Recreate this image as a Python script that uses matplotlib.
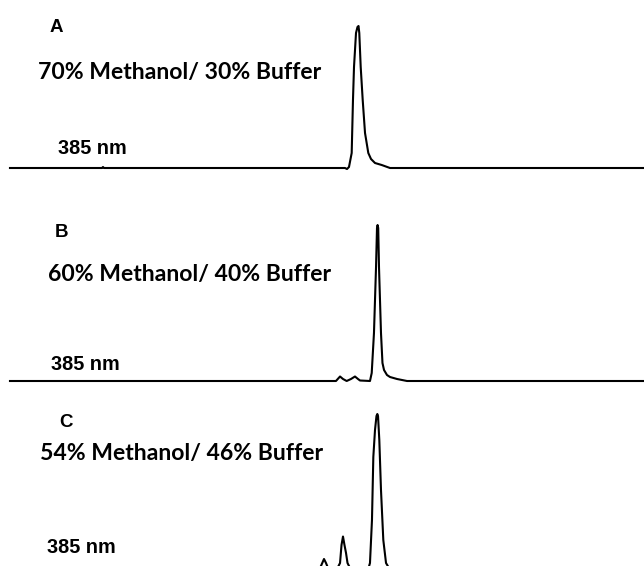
import numpy as np
import matplotlib
matplotlib.use('Agg')
import matplotlib.pyplot as plt

# Chromatogram traces at 385 nm for three mobile phase ratios
# retention time (min) and detector signal (mAU) read as breakpoints of each trace
t_A = [0.155, 1.584, 1.599, 1.615, 5.357, 5.388, 5.419, 5.461, 5.481, 5.497, 5.528,
       5.551, 5.567, 5.579, 5.601, 5.632, 5.668, 5.719, 5.761, 5.823, 5.927, 6.056, 10.0]
s_A = [0, 0, 1, 0, 0, -1, 1, 15, 68, 101, 135,
       141, 142, 135, 101, 68, 35, 15, 9, 5, 3, 0, 0]

t_B = [0.155, 5.217, 5.280, 5.326, 5.383, 5.450, 5.512, 5.559, 5.590, 5.745, 5.772,
       5.807, 5.839, 5.854, 5.863, 5.873, 5.885, 5.916, 5.939, 5.963, 6.009, 6.056,
       6.165, 6.320, 10.0]
s_B = [0, 0, 4.5, 2, 0, 2, 4.5, 2, 0.5, 0, 8,
       48, 114, 153, 156, 153, 114, 48, 18, 11, 6, 4,
       2, 0, 0]

t_C = [0.155, 4.938, 4.984, 5.031, 5.062, 5.093, 5.171, 5.233, 5.280, 5.303, 5.326,
       5.349, 5.373, 5.396, 5.435, 5.512, 5.621, 5.714, 5.745, 5.776, 5.797, 5.823,
       5.846, 5.859, 5.870, 5.890, 5.916, 5.952, 5.994, 6.040, 6.134, 6.289, 10.0]
s_C = [0, 0, 5, 12, 8, 3, 1, 2, 8, 26, 34.5,
       26, 18, 8, 3, 2, 1, 1, 8, 51, 114, 141,
       155, 157, 155, 131, 81, 31, 8, 3, 1, 0, 0]

panel_letters = ['A', 'B', 'C']
phase_labels = ['70% Methanol/ 30% Buffer',
                '60% Methanol/ 40% Buffer',
                '54% Methanol/ 46% Buffer']
wavelength = '385 nm'

W, H = 644, 566
fig = plt.figure(figsize=(W / 100, H / 100), dpi=100)

def fx(x):
    return x / W

def fy(y):
    return 1 - y / H

# (top px, bottom px, ylim) for each strip
strips = [(0, 190, (-22, 168)),
          (190, 400, (-19, 191)),
          (400, 566, (5, 171))]
traces = [(t_A, s_A), (t_B, s_B), (t_C, s_C)]

for (top, bot, ylim), (t, s) in zip(strips, traces):
    ax = fig.add_axes([0, fy(bot), 1, (bot - top) / H])
    ax.plot(t, s, color='black', lw=1.5, solid_joinstyle='round')
    ax.set_xlim(0, 10)
    ax.set_ylim(*ylim)
    ax.axis('off')

# labels: letter, mobile phase, wavelength (x, baseline y in px)
letter_pos = [(50, 32), (55, 237), (59, 427)]
phase_pos = [(38, 79), (48, 281), (40, 460)]
nm_pos = [(58, 154), (51, 370), (47, 553)]

for i in range(3):
    fig.text(fx(letter_pos[i][0]), fy(letter_pos[i][1]), panel_letters[i],
             family='Liberation Sans', weight='bold', fontsize=13.5, va='baseline')
    fig.text(fx(phase_pos[i][0]), fy(phase_pos[i][1]), phase_labels[i],
             family='Lato', weight='bold', fontsize=16.6, va='baseline')
    fig.text(fx(nm_pos[i][0]), fy(nm_pos[i][1]), wavelength,
             family='Liberation Sans', weight='bold', fontsize=14.3, va='baseline')

fig.savefig('out.png', dpi=100)
